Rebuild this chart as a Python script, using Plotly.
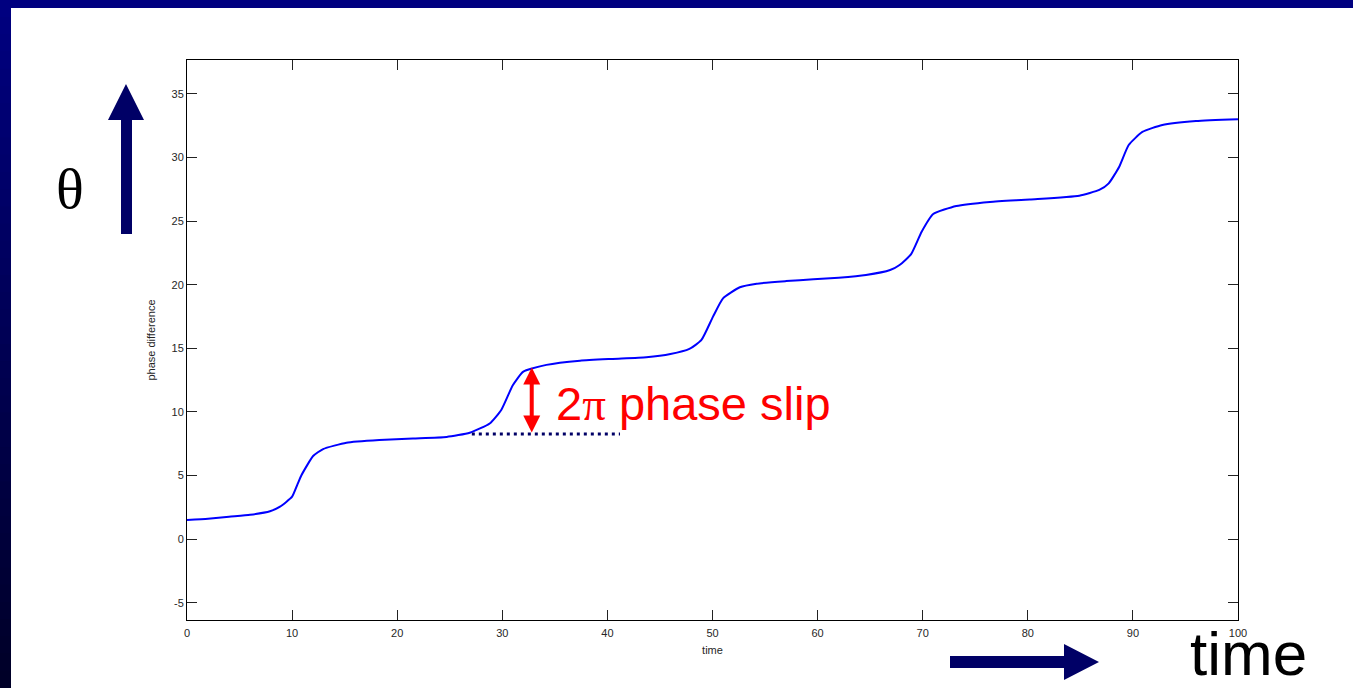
import plotly.graph_objects as go

# ---- data ----
time = [0, 2, 4, 6, 7.9, 8.85, 10.0, 10.5, 10.9, 12.0, 12.95, 15.17, 18.3, 21.5, 24.7,
        26.9, 28.8, 29.9, 31.0, 32.0, 34.2, 37.4, 40.5, 43.7, 46.0, 47.8, 48.95,
        50.05, 51.0, 52.6, 54.2, 57.0, 59.6, 62.0, 64.6, 66.9, 67.8, 68.9, 69.9,
        71.0, 73.2, 76.4, 80.2, 84.9, 86.8, 87.7, 88.7, 89.6, 90.9, 92.8, 96.0, 100]
phase = [1.52, 1.62, 1.78, 1.93, 2.2, 2.56, 3.35, 4.3, 5.05, 6.54, 7.09, 7.59, 7.8, 7.92, 8.04,
         8.37, 9.1, 10.16, 12.1, 13.17, 13.7, 14.03, 14.17, 14.3, 14.55, 14.95, 15.66,
         17.49, 18.93, 19.8, 20.08, 20.28, 20.42, 20.55, 20.76, 21.15, 21.55, 22.4, 24.16,
         25.55, 26.18, 26.5, 26.7, 26.99, 27.44, 27.96, 29.27, 30.97, 32.0, 32.55, 32.86, 33.0]

x_ticks = [0, 10, 20, 30, 40, 50, 60, 70, 80, 90, 100]
x_tick_text = ["0", "10", "20", "30", "40", "50", "60", "70", "80", "90", "100"]
y_ticks = [-5, 0, 5, 10, 15, 20, 25, 30, 35]
y_tick_text = ["-5", "0", "5", "10", "15", "20", "25", "30", "35"]
x_range = [0, 100]
y_range = [-6.34, 37.65]

# phase-slip annotation values
slip_x = 32.8
slip_low = 8.27
slip_high = 13.5
base_x = [27.1, 41.2]
slip_label = '2<span style="font-family:Liberation Serif">π</span> phase slip'

# ---- figure geometry (pixels) ----
W, H = 1353, 688
L, R, T, B = 187, 1238, 60, 620
NAVY = "#000066"


def px(x):
    return (x - L) / (R - L)


def py(y):
    return (B - y) / (B - T)


fig = go.Figure()
fig.add_trace(go.Scatter(x=time, y=phase, mode="lines",
                         line=dict(color="#0000FF", width=2, shape="spline", smoothing=0.5),
                         showlegend=False, hoverinfo="skip"))

axis_common = dict(showline=True, linecolor="#000000", linewidth=1, mirror="allticks",
                   ticks="inside", ticklen=10, tickcolor="#222222", tickwidth=1,
                   showgrid=False, zeroline=False,
                   tickfont=dict(family="Liberation Sans, Arial", size=11, color="#262626"))

fig.update_xaxes(range=x_range, tickvals=x_ticks, ticktext=x_tick_text, ticklabelstandoff=3,
                 **axis_common,
                 title=dict(text="time", font=dict(family="Liberation Sans, Arial", size=11, color="#262626"),
                            standoff=8))
fig.update_yaxes(range=y_range, tickvals=y_ticks, ticktext=y_tick_text, **axis_common,
                 title=dict(text="phase difference",
                            font=dict(family="Liberation Sans, Arial", size=11, color="#262626"),
                            standoff=13))

shapes = []
# slide frame: left gradient band and top band
n = 40
for i in range(n):
    y0 = H * i / n
    y1 = H * (i + 1) / n + 2
    f = i / (n - 1)
    b = int(128 - f * (128 - 40))
    shapes.append(dict(type="rect", xref="paper", yref="paper", x0=px(-2), x1=px(11),
                       y0=py(y1), y1=py(y0), fillcolor=f"rgb(0,0,{b})", line=dict(width=0),
                       layer="above"))
shapes.append(dict(type="rect", xref="paper", yref="paper", x0=px(-2), x1=px(W + 2), y0=py(8), y1=py(-2),
                   fillcolor="#000080", line=dict(width=0), layer="above"))


def poly(points):
    return "M " + " L ".join(f"{px(a):.5f},{py(b):.5f}" for a, b in points) + " Z"


# navy theta arrow (vertical)
shapes.append(dict(type="path", xref="paper", yref="paper",
                   path=poly([(121, 234), (132, 234), (132, 120), (144, 120), (126, 84),
                              (108, 120), (121, 120)]),
                   fillcolor=NAVY, line=dict(width=0)))
# navy time arrow (horizontal)
shapes.append(dict(type="path", xref="paper", yref="paper",
                   path=poly([(950, 656), (1064, 656), (1064, 644), (1099, 662), (1064, 680),
                              (1064, 668), (950, 668)]),
                   fillcolor=NAVY, line=dict(width=0)))
# dotted baseline
shapes.append(dict(type="line", xref="x", yref="y", x0=base_x[0], x1=base_x[1],
                   y0=slip_low, y1=slip_low, line=dict(color=NAVY, width=3, dash="3px,4px")))

fig.update_layout(shapes=shapes)

annotations = [
    dict(x=slip_x, y=slip_high, ax=slip_x, ay=slip_low, xref="x", yref="y", axref="x", ayref="y",
         text="", showarrow=True, arrowhead=2, arrowside="end+start", arrowwidth=4,
         arrowsize=0.85, arrowcolor="#FF0000", standoff=0, startstandoff=0),
    dict(x=34.95, y=10.63, xref="x", yref="y", xanchor="left", yanchor="middle",
         text=slip_label, showarrow=False,
         font=dict(family="Liberation Sans, Arial", size=47, color="#FF0000")),
    dict(x=px(70), y=py(188), xref="paper", yref="paper", xanchor="center", yanchor="middle",
         text="θ", showarrow=False,
         font=dict(family="Liberation Serif, Times New Roman", size=58, color="#000000")),
    dict(x=px(1248), y=py(653), xref="paper", yref="paper", xanchor="center", yanchor="middle",
         text="time", showarrow=False,
         font=dict(family="Liberation Sans, Arial", size=62, color="#000000")),
]
fig.update_layout(annotations=annotations)

fig.update_layout(width=W, height=H, autosize=False,
                  margin=dict(l=L, r=W - R, t=T, b=H - B, pad=0),
                  paper_bgcolor="#FFFFFF", plot_bgcolor="#FFFFFF")

fig.write_html("out.html", config={"displayModeBar": False},
               post_script="document.body.style.margin='0';document.body.style.overflow='hidden';")
